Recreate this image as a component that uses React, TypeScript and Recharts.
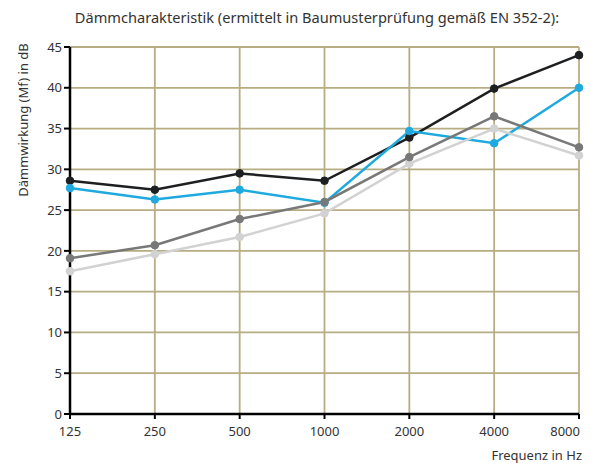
import React from 'react';
import { LineChart, Line, XAxis, YAxis, CartesianGrid } from 'recharts';

const frequencies = ['125', '250', '500', '1000', '2000', '4000', '8000'];
const seriesBlack = [28.6, 27.5, 29.5, 28.6, 33.9, 39.9, 44.0];
const seriesBlue = [27.7, 26.3, 27.5, 25.9, 34.7, 33.2, 40.0];
const seriesDarkGray = [19.1, 20.7, 23.9, 26.0, 31.5, 36.5, 32.7];
const seriesLightGray = [17.5, 19.6, 21.7, 24.6, 30.7, 35.0, 31.7];
const yTicks = [0, 5, 10, 15, 20, 25, 30, 35, 40, 45];

const data = frequencies.map((f, i) => ({
  freq: f,
  black: seriesBlack[i],
  blue: seriesBlue[i],
  darkGray: seriesDarkGray[i],
  lightGray: seriesLightGray[i],
}));

const FONT = '"Noto Sans", "Open Sans", sans-serif';
const TEXT = '#333333';

const XTick = (props: any) => {
  const { x, y, payload } = props;
  const last = payload.value === frequencies[frequencies.length - 1];
  return (
    <text
      x={last ? x + 1 : x}
      y={y}
      dy="0.71em"
      textAnchor={last ? 'end' : 'middle'}
      fill={TEXT}
      fontSize={13}
      fontFamily={FONT}
    >
      {payload.value}
    </text>
  );
};

const series = [
  { key: 'black', color: '#1e1f21' },
  { key: 'blue', color: '#1eaadf' },
  { key: 'lightGray', color: '#d2d2d2' },
  { key: 'darkGray', color: '#787878' },
];

export default function App() {
  return (
    <div style={{ position: 'absolute', left: 0, top: 0, width: 591, height: 464, background: '#fff', fontFamily: FONT, color: TEXT }}>
      <div style={{ position: 'absolute', left: 317, top: 7, transform: 'translateX(-50%)', whiteSpace: 'nowrap', fontSize: 14.6 }}>
        Dämmcharakteristik (ermittelt in Baumusterprüfung gemäß EN 352-2):
      </div>
      <div
        style={{
          position: 'absolute',
          left: 23,
          top: 120,
          transform: 'translate(-50%, -50%) rotate(-90deg)',
          whiteSpace: 'nowrap',
          fontSize: 13,
        }}
      >
        Dämmwirkung (Mf) in dB
      </div>
      <div style={{ position: 'absolute', right: 9, top: 446, whiteSpace: 'nowrap', fontSize: 13 }}>
        Frequenz in Hz
      </div>
      <LineChart width={591} height={464} data={data} margin={{ top: 47, right: 12, bottom: 20, left: 0 }}>
        <CartesianGrid stroke="#b8ad82" strokeWidth={1.8} />
        <XAxis
          dataKey="freq"
          tick={<XTick />}
          tickSize={5}
          tickMargin={8}
          height={30}
          interval={0}
          axisLine={{ stroke: '#000', strokeWidth: 2.5 }}
          tickLine={{ stroke: '#000', strokeWidth: 2 }}
        />
        <YAxis
          domain={[0, 45]}
          ticks={yTicks}
          width={70}
          tickSize={6}
          tickMargin={2}
          interval={0}
          tick={{ fill: TEXT, fontSize: 13, fontFamily: FONT }}
          axisLine={{ stroke: '#000', strokeWidth: 2.5 }}
          tickLine={{ stroke: '#000', strokeWidth: 2 }}
        />
        {series.map((s) => (
          <Line
            key={s.key}
            dataKey={s.key}
            type="linear"
            stroke={s.color}
            strokeWidth={2.5}
            dot={{ r: 3.8, fill: s.color, stroke: s.color, strokeWidth: 1 }}
            activeDot={false}
            isAnimationActive={false}
          />
        ))}
      </LineChart>
    </div>
  );
}
